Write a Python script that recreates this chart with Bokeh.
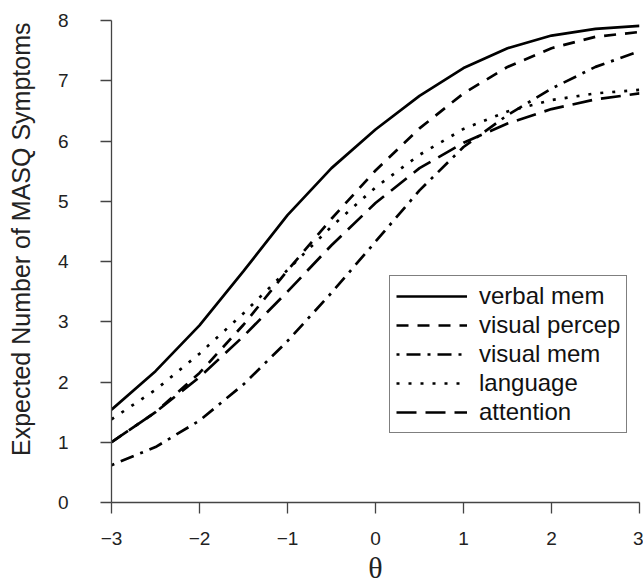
from bokeh.plotting import figure
from bokeh.models import Legend, LegendItem, FixedTicker, Range1d, Title
from bokeh.embed import file_html
from bokeh.resources import INLINE

# ---- data ----
theta = [-3, -2.5, -2, -1.5, -1, -0.5, 0, 0.5, 1, 1.5, 2, 2.5, 3]
verbal_mem    = [1.54, 2.18, 2.94, 3.84, 4.77, 5.55, 6.19, 6.75, 7.21, 7.54, 7.75, 7.86, 7.91]
visual_percep = [1.00, 1.50, 2.15, 2.95, 3.85, 4.71, 5.51, 6.21, 6.79, 7.23, 7.54, 7.73, 7.81]
visual_mem    = [0.62, 0.92, 1.36, 1.96, 2.68, 3.48, 4.33, 5.18, 5.90, 6.43, 6.87, 7.23, 7.49]
language      = [1.38, 1.87, 2.47, 3.14, 3.86, 4.58, 5.23, 5.77, 6.20, 6.49, 6.68, 6.79, 6.85]
attention     = [1.00, 1.50, 2.08, 2.76, 3.50, 4.27, 4.97, 5.55, 5.97, 6.29, 6.53, 6.69, 6.79]

series_names = ["verbal mem", "visual percep", "visual mem", "language", "attention"]
x_ticks = [-3, -2, -1, 0, 1, 2, 3]
x_tick_labels = ["\u22123", "\u22122", "\u22121", "0", "1", "2", "3"]
y_ticks = [0, 1, 2, 3, 4, 5, 6, 7, 8]
y_title = "Expected Number of MASQ Symptoms"
x_title = "\u03b8"

# ---- figure ----
p = figure(width=643, height=586, x_range=Range1d(-3, 3), y_range=Range1d(0, 8),
           output_backend="svg", toolbar_location=None,
           min_border_left=111, min_border_right=4, min_border_top=20, min_border_bottom=84)
p.outline_line_color = None
p.grid.grid_line_color = None
p.background_fill_color = "white"
p.border_fill_color = "white"

axis_col = "#444444"
for ax in (p.xaxis[0], p.yaxis[0]):
    ax.axis_line_color = axis_col
    ax.axis_line_width = 1.3
    ax.major_tick_line_color = axis_col
    ax.major_tick_line_width = 1.3
    ax.major_tick_in = 0
    ax.major_tick_out = 11
    ax.minor_tick_line_color = None
    ax.major_label_text_font = "Liberation Sans"
    ax.major_label_text_font_size = "19px"
    ax.major_label_text_color = "#222222"

p.xaxis.ticker = FixedTicker(ticks=x_ticks)
p.xaxis.major_label_overrides = {t: s for t, s in zip(x_ticks, x_tick_labels)}
p.xaxis.major_label_standoff = 18
p.xaxis.axis_label = x_title
p.xaxis.axis_label_text_font = "Liberation Serif"
p.xaxis.axis_label_text_font_size = "30px"
p.xaxis.axis_label_text_font_style = "normal"
p.xaxis.axis_label_text_color = "#222222"
p.xaxis.axis_label_standoff = 3

p.yaxis.ticker = FixedTicker(ticks=y_ticks)
p.yaxis.major_label_standoff = 32

styles = ["solid", "12 9", "3 7 14 7", "3 9", "20 9"]
all_series = [verbal_mem, visual_percep, visual_mem, language, attention]
items = []
for name, ys, dash in zip(series_names, all_series, styles):
    r = p.line(theta, ys, line_color="black", line_width=2.7, line_dash=dash)
    items.append(LegendItem(label=name, renderers=[r]))

legend = Legend(items=items, location=(278, 69), orientation="vertical",
                glyph_width=71, glyph_height=26, label_height=26, spacing=1,
                padding=6, margin=0, label_standoff=12,
                label_text_font="Liberation Sans", label_text_font_size="24px",
                label_text_color="#111111",
                border_line_color="black", border_line_width=1.2,
                background_fill_color="white", background_fill_alpha=1.0)
p.add_layout(legend)

# spacer between the y axis and its title
p.add_layout(Title(text=" ", text_font_size="1px", standoff=16), "left")
ytitle = Title(text=y_title, align="right", offset=2, vertical_align="middle",
               standoff=0, text_font="Liberation Sans", text_font_size="25px",
               text_font_style="normal", text_color="#222222")
p.add_layout(ytitle, "left")

open("out.html", "w").write(file_html(p, INLINE))
